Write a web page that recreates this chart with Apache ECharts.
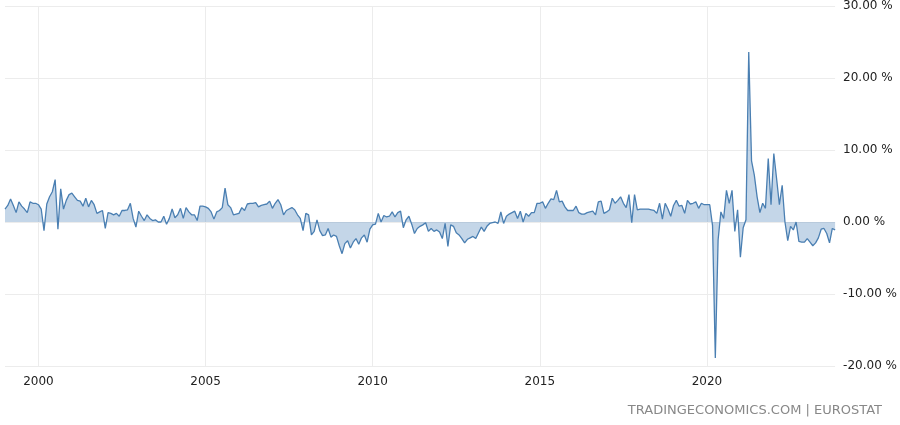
<!DOCTYPE html>
<html><head><meta charset="utf-8">
<script src="https://cdn.jsdelivr.net/npm/echarts@6/dist/echarts.min.js"></script>
<style>html,body{margin:0;padding:0;background:#fff}#c{width:900px;height:425px}</style>
</head><body><div id="c"></div>
<script>
const startYear = 1999, startMonth = 1;
const values = [
1.8,2.3,3.2,2.3,1.3,2.8,2.2,1.8,1.3,2.8,2.6,2.6,2.4,1.8,-1.2,2.5,3.5,4.2,5.9,-1.0,
4.6,1.8,3.0,3.8,4.0,3.5,3.0,2.9,2.2,3.3,2.1,3.0,2.4,1.2,1.4,1.6,-0.9,1.3,1.2,1.0,
1.2,0.8,1.6,1.6,1.7,2.6,0.5,-0.7,1.5,0.8,0.2,1.0,0.5,0.2,0.3,0.0,0.0,0.8,-0.3,0.5,
1.8,0.6,1.0,1.9,0.5,2.0,1.4,1.0,1.0,0.2,2.2,2.2,2.1,1.9,1.4,0.4,1.4,1.6,2.0,4.7,
2.4,2.0,1.0,1.1,1.2,2.0,1.6,2.5,2.6,2.6,2.7,2.1,2.3,2.4,2.5,2.9,1.9,2.6,3.1,2.4,
1.0,1.6,1.8,2.0,1.7,1.0,0.5,-1.2,1.2,1.0,-1.8,-1.3,0.3,-1.2,-1.9,-1.8,-0.9,-2.1,-1.8,-2.0,
-3.3,-4.4,-3.0,-2.6,-3.6,-2.8,-2.3,-3.1,-2.2,-1.8,-2.8,-1.0,-0.4,-0.3,1.2,0.0,0.9,0.7,0.8,1.4,
0.7,1.3,1.5,-0.8,0.3,0.8,-0.3,-1.6,-0.9,-0.6,-0.4,-0.1,-1.3,-0.9,-1.3,-1.1,-1.4,-2.3,-0.2,-3.4,
-0.4,-0.6,-1.5,-1.8,-2.3,-2.9,-2.4,-2.2,-2.0,-2.3,-1.5,-0.7,-1.3,-0.6,-0.2,-0.1,0.0,-0.2,1.4,-0.2,
0.8,1.1,1.3,1.5,0.5,1.5,0.0,1.2,0.8,1.3,1.3,2.6,2.6,2.8,1.9,2.6,3.2,3.1,4.4,2.8,
2.9,2.1,1.6,1.6,1.6,2.2,1.3,1.1,1.1,1.3,1.4,1.5,1.0,2.8,2.9,1.2,1.4,1.7,3.3,2.6,
3.0,3.5,2.6,2.0,3.8,-0.1,3.8,1.7,1.8,1.8,1.8,1.8,1.7,1.6,1.2,2.6,0.4,2.6,1.8,0.8,
2.3,3.0,2.2,2.3,1.2,3.0,2.5,2.6,2.8,1.9,2.6,2.4,2.4,2.4,-0.5,-18.9,-2.5,1.4,0.5,4.4,
2.6,4.4,-1.3,1.7,-4.9,-0.8,0.3,23.6,8.5,6.5,3.5,1.3,2.6,1.9,8.8,2.4,9.5,6.0,2.4,5.1,
0.0,-2.6,-0.6,-1.1,0.0,-2.7,-2.8,-2.8,-2.3,-2.8,-3.3,-2.9,-2.2,-1.0,-0.9,-1.6,-2.9,-0.9,-1.1
];
const yTicks = [-20, -10, 0, 10, 20, 30];
const labelYears = [2000, 2005, 2010, 2015, 2020];
const categories = values.map((v, i) => {
  const m = startMonth - 1 + i;
  const y = startYear + Math.floor(m / 12);
  const mm = (m % 12) + 1;
  return y + '-' + (mm < 10 ? '0' : '') + mm;
});
const isMark = (idx) => {
  const c = categories[idx];
  return c.endsWith('-01') && labelYears.includes(+c.slice(0, 4));
};
const chart = echarts.init(document.getElementById('c'), null, {renderer: 'canvas'});
chart.setOption({
  animation: false,
  grid: {left: 5, right: 62, top: 6, bottom: 59},
  xAxis: {
    type: 'category', data: categories, boundaryGap: false,
    axisLine: {show: false}, axisTick: {show: false},
    axisLabel: {interval: (i) => isMark(i), formatter: (v) => v.slice(0, 4),
      color: '#222', fontSize: 12, fontFamily: 'DejaVu Sans', margin: 10},
    splitLine: {show: true, interval: (i) => isMark(i), lineStyle: {color: '#ececec', width: 1}}
  },
  yAxis: {
    type: 'value', position: 'right', min: yTicks[0], max: yTicks[yTicks.length - 1], interval: 10,
    axisLine: {show: false}, axisTick: {show: false},
    axisLabel: {formatter: (v) => v.toFixed(2) + ' %', color: '#222', fontSize: 12,
      fontFamily: 'DejaVu Sans', margin: 8},
    splitLine: {lineStyle: {color: '#ececec', width: 1}}
  },
  graphic: [{type: 'text', right: 18, top: 404,
    style: {text: 'TRADINGECONOMICS.COM | EUROSTAT', fill: '#888', fontSize: 13,
      fontFamily: 'DejaVu Sans'}}],
  series: [{
    type: 'line', data: values, showSymbol: false, symbol: 'none',
    lineStyle: {color: '#4a7fb2', width: 1.3},
    areaStyle: {color: 'rgba(102,148,196,0.55)', origin: 0}
  }]
});
</script></body></html>
